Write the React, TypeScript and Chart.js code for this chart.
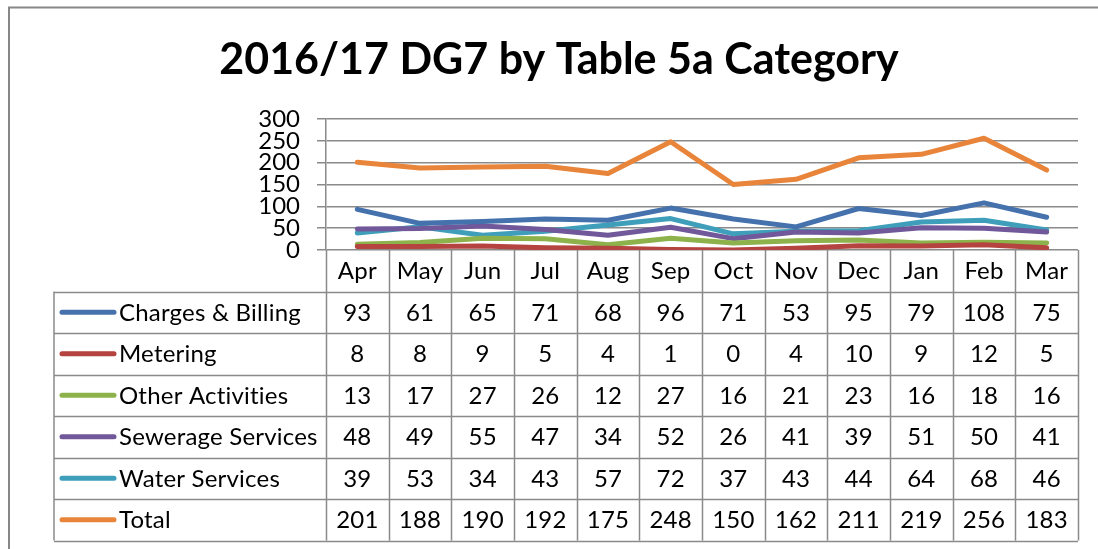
import React, { useEffect, useRef } from 'react';
import { Chart, registerables } from 'chart.js';

Chart.register(...registerables);

const TITLE = '2016/17 DG7 by Table 5a Category';
const MONTHS = ['Apr', 'May', 'Jun', 'Jul', 'Aug', 'Sep', 'Oct', 'Nov', 'Dec', 'Jan', 'Feb', 'Mar'];
const SERIES_NAMES = ['Charges & Billing', 'Metering', 'Other Activities', 'Sewerage Services', 'Water Services', 'Total'];
const CHARGES_BILLING = [93, 61, 65, 71, 68, 96, 71, 53, 95, 79, 108, 75];
const METERING = [8, 8, 9, 5, 4, 1, 0, 4, 10, 9, 12, 5];
const OTHER_ACTIVITIES = [13, 17, 27, 26, 12, 27, 16, 21, 23, 16, 18, 16];
const SEWERAGE_SERVICES = [48, 49, 55, 47, 34, 52, 26, 41, 39, 51, 50, 41];
const WATER_SERVICES = [39, 53, 34, 43, 57, 72, 37, 43, 44, 64, 68, 46];
const TOTAL = [201, 188, 190, 192, 175, 248, 150, 162, 211, 219, 256, 183];
const SERIES_VALUES = [CHARGES_BILLING, METERING, OTHER_ACTIVITIES, SEWERAGE_SERVICES, WATER_SERVICES, TOTAL];
const SERIES_COLORS = ['#4571AC', '#B5433F', '#8DB24C', '#71589A', '#3F9FBA', '#E8853A'];
const Y_MIN = 0;
const Y_MAX = 300;
const Y_STEP = 50;

const FONT = 'Lato, "Open Sans", sans-serif';
const GRID = '#8a8a8a';

const tablePlugin = {
  id: 'dataTable',
  afterDraw(chart: any) {
    const ctx = chart.ctx as any;
    const xs = chart.scales.x;
    const area = chart.chartArea;
    const n = MONTHS.length;
    const step = (area.right - area.left) / n;
    const rowH = 41.5;
    const catTop = area.bottom;
    const tableTop = catTop + rowH;
    const tableLeft = 54;
    const nRows = SERIES_NAMES.length;
    const tableBottom = tableTop + rowH * nRows;

    ctx.save();
    ctx.strokeStyle = '#878787';
    ctx.lineWidth = 2;
    ctx.beginPath();
    ctx.moveTo(9, 549);
    ctx.lineTo(9, 7.5);
    ctx.lineTo(1098, 7.5);
    ctx.stroke();

    ctx.fillStyle = '#000';
    ctx.font = `bold 43px ${FONT}`;
    ctx.textAlign = 'center';
    ctx.textBaseline = 'alphabetic';
    ctx.fillText(TITLE, 559, 74);

    ctx.strokeStyle = GRID;
    ctx.lineWidth = 1.5;
    const bounds: number[] = [];
    for (let i = 0; i <= n; i++) {
      const c = i < n ? xs.getPixelForValue(i) - step / 2 : xs.getPixelForValue(n - 1) + step / 2;
      bounds.push(c);
    }
    ctx.beginPath();
    bounds.forEach((b) => {
      ctx.moveTo(Math.round(b) + 0.5, catTop);
      ctx.lineTo(Math.round(b) + 0.5, tableBottom);
    });
    ctx.moveTo(tableLeft, tableTop);
    ctx.lineTo(tableLeft, tableBottom);
    for (let r = 0; r <= nRows; r++) {
      const y = Math.round(tableTop + r * rowH) + 0.5;
      ctx.moveTo(tableLeft, y);
      ctx.lineTo(bounds[n], y);
    }
    ctx.stroke();

    ctx.fillStyle = '#000';
    ctx.font = `24px ${FONT}`;
    ctx.textRendering = 'optimizeSpeed';
    ctx.letterSpacing = '0.2px';
    ctx.textAlign = 'center';
    ctx.textBaseline = 'middle';
    MONTHS.forEach((m, i) => {
      ctx.fillText(m, xs.getPixelForValue(i), catTop + rowH / 2 + 1);
    });

    SERIES_NAMES.forEach((name, r) => {
      const yc = tableTop + r * rowH + rowH / 2 + 1;
      ctx.strokeStyle = SERIES_COLORS[r];
      ctx.lineWidth = 5;
      ctx.lineCap = 'round';
      ctx.beginPath();
      ctx.moveTo(62, yc - 1);
      ctx.lineTo(114, yc - 1);
      ctx.stroke();
      ctx.textAlign = 'left';
      ctx.fillStyle = '#000';
      ctx.fillText(name, 119, yc);
      ctx.textAlign = 'center';
      SERIES_VALUES[r].forEach((v, i) => {
        ctx.fillText(String(v), xs.getPixelForValue(i), yc);
      });
    });
    ctx.restore();
  },
};

export default function App() {
  const ref = useRef<HTMLCanvasElement>(null);
  useEffect(() => {
    if (!ref.current) return;
    const chart = new Chart(ref.current, {
      type: 'line',
      data: {
        labels: MONTHS,
        datasets: SERIES_NAMES.map((name, i) => ({
          label: name,
          data: SERIES_VALUES[i],
          borderColor: SERIES_COLORS[i],
          backgroundColor: SERIES_COLORS[i],
          borderWidth: 5,
          pointRadius: 0,
          tension: 0,
          borderCapStyle: 'round' as const,
          borderJoinStyle: 'round' as const,
        })),
      },
      options: {
        responsive: false,
        animation: false,
        layout: { padding: { top: 119, bottom: 299, left: 0, right: 20 } },
        plugins: {
          legend: { display: false },
          title: { display: false },
          tooltip: { enabled: false },
        },
        scales: {
          x: {
            display: false,
            offset: true,
          },
          y: {
            min: Y_MIN,
            max: Y_MAX,
            ticks: {
              stepSize: Y_STEP,
              autoSkip: false,
              color: '#000',
              font: { family: FONT, size: 24, lineHeight: 0.9 },
              padding: 17,
            },
            grid: {
              color: GRID,
              lineWidth: 1.5,
              drawTicks: true,
              tickLength: 9,
              tickColor: GRID,
            },
            border: { display: true, color: GRID, width: 1.5 },
            afterFit: (scale: any) => {
              scale.width = 326;
            },
          },
        },
      },
      plugins: [tablePlugin],
    });
    return () => chart.destroy();
  }, []);
  return (
    <div style={{ position: 'absolute', left: 0, top: 0, width: 1098, height: 549, background: '#fff' }}>
      <canvas ref={ref} width={1098} height={549} />
    </div>
  );
}
